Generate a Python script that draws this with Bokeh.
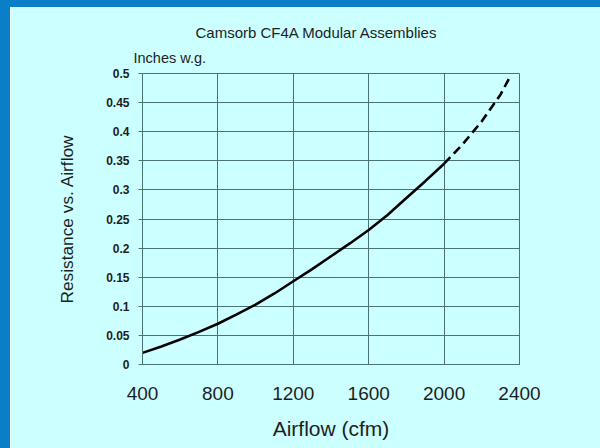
from bokeh.plotting import figure
from bokeh.models import Title, FixedTicker, Range1d
from bokeh.embed import file_html
from bokeh.resources import INLINE

# ---- data ----
airflow_solid = [400, 500, 600, 700, 800, 900, 1000, 1100, 1200, 1300, 1400, 1500, 1600, 1700, 1800, 1900, 2000]
resistance_solid = [0.020, 0.031, 0.043, 0.056, 0.070, 0.086, 0.103, 0.122, 0.143, 0.164, 0.186, 0.208, 0.231, 0.257, 0.286, 0.315, 0.345]
airflow_dashed = [2000, 2100, 2200, 2300, 2352]
resistance_dashed = [0.345, 0.379, 0.418, 0.464, 0.496]
x_ticks = [400, 800, 1200, 1600, 2000, 2400]
y_ticks = [0, 0.05, 0.1, 0.15, 0.2, 0.25, 0.3, 0.35, 0.4, 0.45, 0.5]
y_tick_labels = ["0", "0.05", "0.1", "0.15", "0.2", "0.25", "0.3", "0.35", "0.4", "0.45", "0.5"]
title_text = "Camsorb CF4A Modular Assemblies"
unit_text = "Inches w.g."
x_label_text = "Airflow (cfm)"
y_label_text = "Resistance vs. Airflow"

BG = "#CCFFFF"
BLUE = "#0A7EC6"
GRID = "#4A7373"
FONT = "Liberation Sans"
TXT = "#1E1E1E"

# content origin at page (10, 7) because of the css borders; frame at page x 142..519, y 73..364
p = figure(width=600, height=448, output_backend="svg", toolbar_location=None,
           x_range=Range1d(400, 2400), y_range=Range1d(0, 0.5),
           min_border_left=132, min_border_right=91, min_border_top=66, min_border_bottom=91,
           background_fill_color=BG, border_fill_color=BG,
           styles={"border-left": "10px solid " + BLUE, "border-top": "7px solid " + BLUE})

p.line(airflow_solid, resistance_solid, line_color="black", line_width=2.6)
p.line(airflow_dashed, resistance_dashed, line_color="black", line_width=2.6, line_dash="9 5")

p.xaxis.ticker = FixedTicker(ticks=x_ticks)
p.yaxis.ticker = FixedTicker(ticks=y_ticks)
p.yaxis.major_label_overrides = {t: s for t, s in zip(y_ticks, y_tick_labels)}

for ax in (p.xaxis[0], p.yaxis[0]):
    ax.axis_line_color = GRID
    ax.major_tick_line_color = GRID
    ax.minor_tick_line_color = None
    ax.major_tick_in = 0
    ax.major_label_text_font = FONT
    ax.major_label_text_color = TXT
    ax.axis_label_text_font = FONT
    ax.axis_label_text_color = TXT
    ax.axis_label_text_font_style = "normal"

p.xaxis.major_tick_out = 0
p.xaxis.major_label_text_font_size = "19px"
p.xaxis.major_label_standoff = 22
p.xaxis.axis_label = x_label_text
p.xaxis.axis_label_text_font_size = "21px"
p.xaxis.axis_label_standoff = 14

p.yaxis.major_tick_out = 4
p.yaxis.major_label_text_font_size = "12px"
p.yaxis.major_label_text_font_style = "bold"
p.yaxis.major_label_standoff = 9
p.yaxis.axis_label = y_label_text
p.yaxis.axis_label_text_font_size = "17.3px"
p.yaxis.axis_label_standoff = 26

p.xgrid.grid_line_color = GRID
p.ygrid.grid_line_color = GRID
p.xgrid.ticker = FixedTicker(ticks=x_ticks)
p.ygrid.ticker = FixedTicker(ticks=y_ticks)
p.outline_line_color = GRID

p.title = Title(text=title_text, align="left", offset=53, standoff=0,
                text_font=FONT, text_font_size="15px", text_font_style="normal", text_color=TXT)
p.add_layout(Title(text=unit_text, align="left", offset=-9, standoff=15, text_line_height=0.8,
                   text_font=FONT, text_font_size="14.5px", text_font_style="normal", text_color=TXT),
             "above")

open("out.html", "w").write(file_html(p, INLINE))
